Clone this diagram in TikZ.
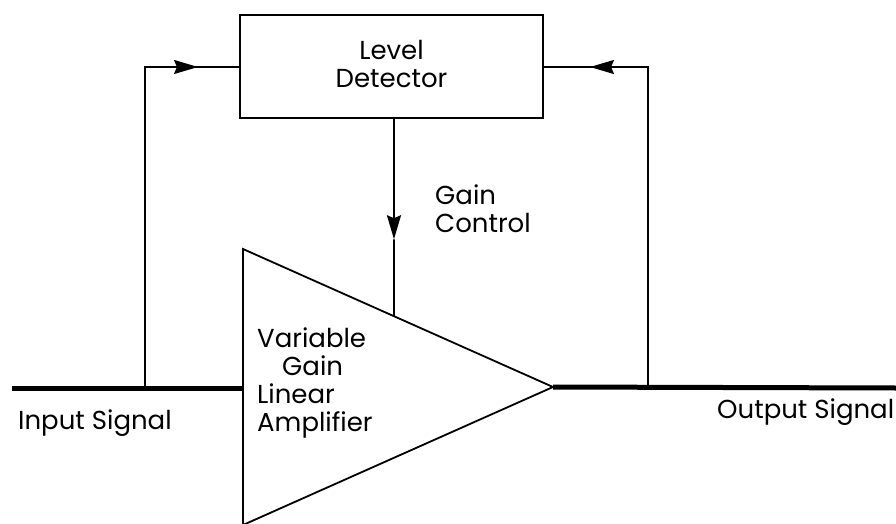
\documentclass[tikz,border=0pt]{standalone}
\usepackage{fontspec}
\setmainfont{Poppins}
\usetikzlibrary{arrows.meta,calc}
\begin{document}
\begin{tikzpicture}[x=1pt,y=-1pt,
  thinline/.style={line width=1.8pt},
  sigline/.style={line width=5pt},
  arr/.style={thinline,-{Stealth[length=24pt,width=14pt,inset=3pt]}},
  lbl/.style={font=\fontsize{26}{28}\selectfont,inner sep=0pt},
  block/.style={draw,thinline,minimum width=303pt,minimum height=103pt,inner sep=0pt}
]
\useasboundingbox (0,0) rectangle (896,524);
% level detector
\node[block] (ld) at (391.5,66.5) {};
\node[lbl,align=center] (ldt) at (391.5,63.5) {Level\\Detector};
% amplifier triangle
\coordinate (tl) at (243,249);
\coordinate (bl) at (243,525);
\coordinate (apex) at (553,387);
\draw[thinline,line join=miter] (tl) -- (apex) -- (bl) -- cycle;
\coordinate (gc) at ($(tl)!0.487!(apex)$);
\node[lbl,align=left,anchor=north west] (amp) at (257,328) {Variable\\\hspace*{25pt}Gain\\Linear\\Amplifier};
% signal lines
\coordinate (in) at (12,388);
\coordinate (inl) at (243,388);
\coordinate (out) at (896,388);
\coordinate (fl) at (145,388);
\coordinate (fr) at (648,388);
\draw[sigline] (in) -- (inl);
\draw[sigline] (apex) -- (out);
% left feedback
\coordinate (flt) at (145,67);
\coordinate (fla) at (198,67);
\draw[thinline,line join=miter] (fl) -- (flt) -- (fla);
\draw[arr] (flt) -- (fla);
\draw[thinline] (fla) -- (ld.west |- flt);
% right feedback
\coordinate (frt) at (648,67);
\coordinate (fra) at (590,67);
\draw[thinline,line join=miter] (fr) -- (frt) -- (fra);
\draw[arr] (frt) -- (fra);
\draw[thinline] (fra) -- (ld.east |- frt);
% gain control
\coordinate (gct) at (ld.south -| gc);
\coordinate (gca) at ($(gct)!0.61!(gc)$);
\draw[arr] (gct) -- (gca);
\draw[thinline] (gca) -- (gc);
\node[lbl,align=left,anchor=west] (gcl) at (435,209) {Gain\\Control};
% signal labels
\node[lbl,anchor=west] (insig) at (18,423) {Input Signal};
\node[lbl,anchor=west] (outsig) at (717,412) {Output Signal};
\end{tikzpicture}
\end{document}
